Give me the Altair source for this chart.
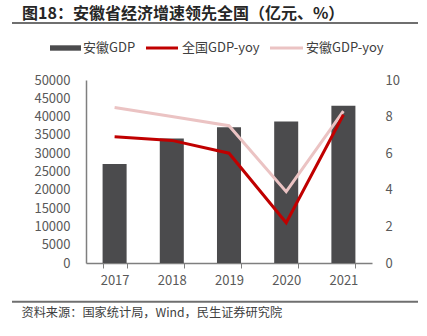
import altair as alt
import pandas as pd

years = ["2017", "2018", "2019", "2020", "2021"]
anhui_gdp = [27018, 34010, 37114, 38680, 42959]
national_yoy = [6.9, 6.7, 6.0, 2.2, 8.1]
anhui_yoy = [8.5, 8.0, 7.5, 3.9, 8.3]

title_text = "图18：安徽省经济增速领先全国（亿元、%）"
source_text = "资料来源：国家统计局，Wind，民生证券研究院"
legend_labels = ["安徽GDP", "全国GDP-yoy", "安徽GDP-yoy"]

FONT = "Noto Sans CJK SC"
BAR_COLOR = "#4b4b4d"
RED = "#c00000"
PINK = "#ebc3c3"
AXIS_GRAY = "#7f7f7f"
LABEL_GRAY = "#595959"

gdp_df = pd.DataFrame({"year": years, "gdp": anhui_gdp})
line_df = pd.DataFrame({
    "year": years * 2,
    "yoy": anhui_yoy + national_yoy,
    "series": [legend_labels[2]] * 5 + [legend_labels[1]] * 5,
})
one = pd.DataFrame({"a": [0]})

xscale = alt.Scale(paddingInner=0.58, paddingOuter=0.29)
xaxis = alt.Axis(title=None, labelAngle=0, labelFont=FONT, labelFontSize=13,
                 labelColor=LABEL_GRAY, domainColor=AXIS_GRAY, tickColor=AXIS_GRAY,
                 tickSize=5, tickBand="extent", labelPadding=6, domainWidth=1.5)

bars = alt.Chart(gdp_df).mark_bar(color=BAR_COLOR).encode(
    x=alt.X("year:N", scale=xscale, axis=xaxis),
    y=alt.Y("gdp:Q", scale=alt.Scale(domain=[0, 50000], nice=False),
            axis=alt.Axis(title=None, values=list(range(0, 50001, 5000)), orient="left",
                          format="d", grid=False, ticks=False, labelPadding=16,
                          labelFont=FONT, labelFontSize=13, labelColor=LABEL_GRAY,
                          domainColor=AXIS_GRAY, domainWidth=1.5, labelFlush=False,
                          labelOverlap=False)),
)

def line_layer(name, color):
    return alt.Chart(line_df).transform_filter(alt.datum.series == name).mark_line(
        color=color, strokeWidth=3
    ).encode(
        x=alt.X("year:N", scale=xscale, axis=xaxis),
        y=alt.Y("yoy:Q", scale=alt.Scale(domain=[0, 10], nice=False),
                axis=alt.Axis(title=None, values=[0, 2, 4, 6, 8, 10], orient="right",
                              format="d", grid=False, ticks=False, domain=False,
                              labelPadding=13, labelFont=FONT, labelFontSize=13,
                              labelColor=LABEL_GRAY, labelFlush=False,
                              labelOverlap=False)),
    )

lines = alt.layer(line_layer(legend_labels[2], PINK), line_layer(legend_labels[1], RED))

def text(t, x, y, size, weight="normal", color="#404040"):
    return alt.Chart(one).mark_text(text=t, font=FONT, fontSize=size, fontWeight=weight,
                                    color=color, align="left", baseline="middle").encode(
        x=alt.value(x), y=alt.value(y))

def hrule(x1, x2, y, color, width):
    return alt.Chart(one).mark_rule(color=color, strokeWidth=width).encode(
        x=alt.value(x1), x2=alt.value(x2), y=alt.value(y))

# origin of plot area is at (86, 80) on the page
deco = alt.layer(
    text(title_text, -64, -66, 16, "bold", "#262626"),
    hrule(-74, 332, -57, "#6f6f6f", 2),
    alt.Chart(one).mark_rect(color=BAR_COLOR).encode(
        x=alt.value(-36), x2=alt.value(-5), y=alt.value(-34.7), y2=alt.value(-29.3)),
    text(legend_labels[0], -3, -32.5, 13),
    hrule(60, 92, -32, RED, 3),
    text(legend_labels[1], 96, -32.5, 13),
    hrule(184, 217, -32, PINK, 3),
    text(legend_labels[2], 220, -32.5, 13),
    hrule(-74, 332, 221.7, "#6f6f6f", 2),
    text(source_text, -64.5, 233.3, 12.2, "normal", "#404040"),
)

chart = alt.layer(bars, lines, deco).resolve_scale(y="independent").properties(
    width=286, height=183,
    autosize=alt.AutoSizeParams(type="none"),
    padding={"left": 86, "top": 80, "right": 55, "bottom": 73},
).configure_view(stroke=None)

chart.save("out.html", embed_options={"renderer": "svg", "actions": False})
